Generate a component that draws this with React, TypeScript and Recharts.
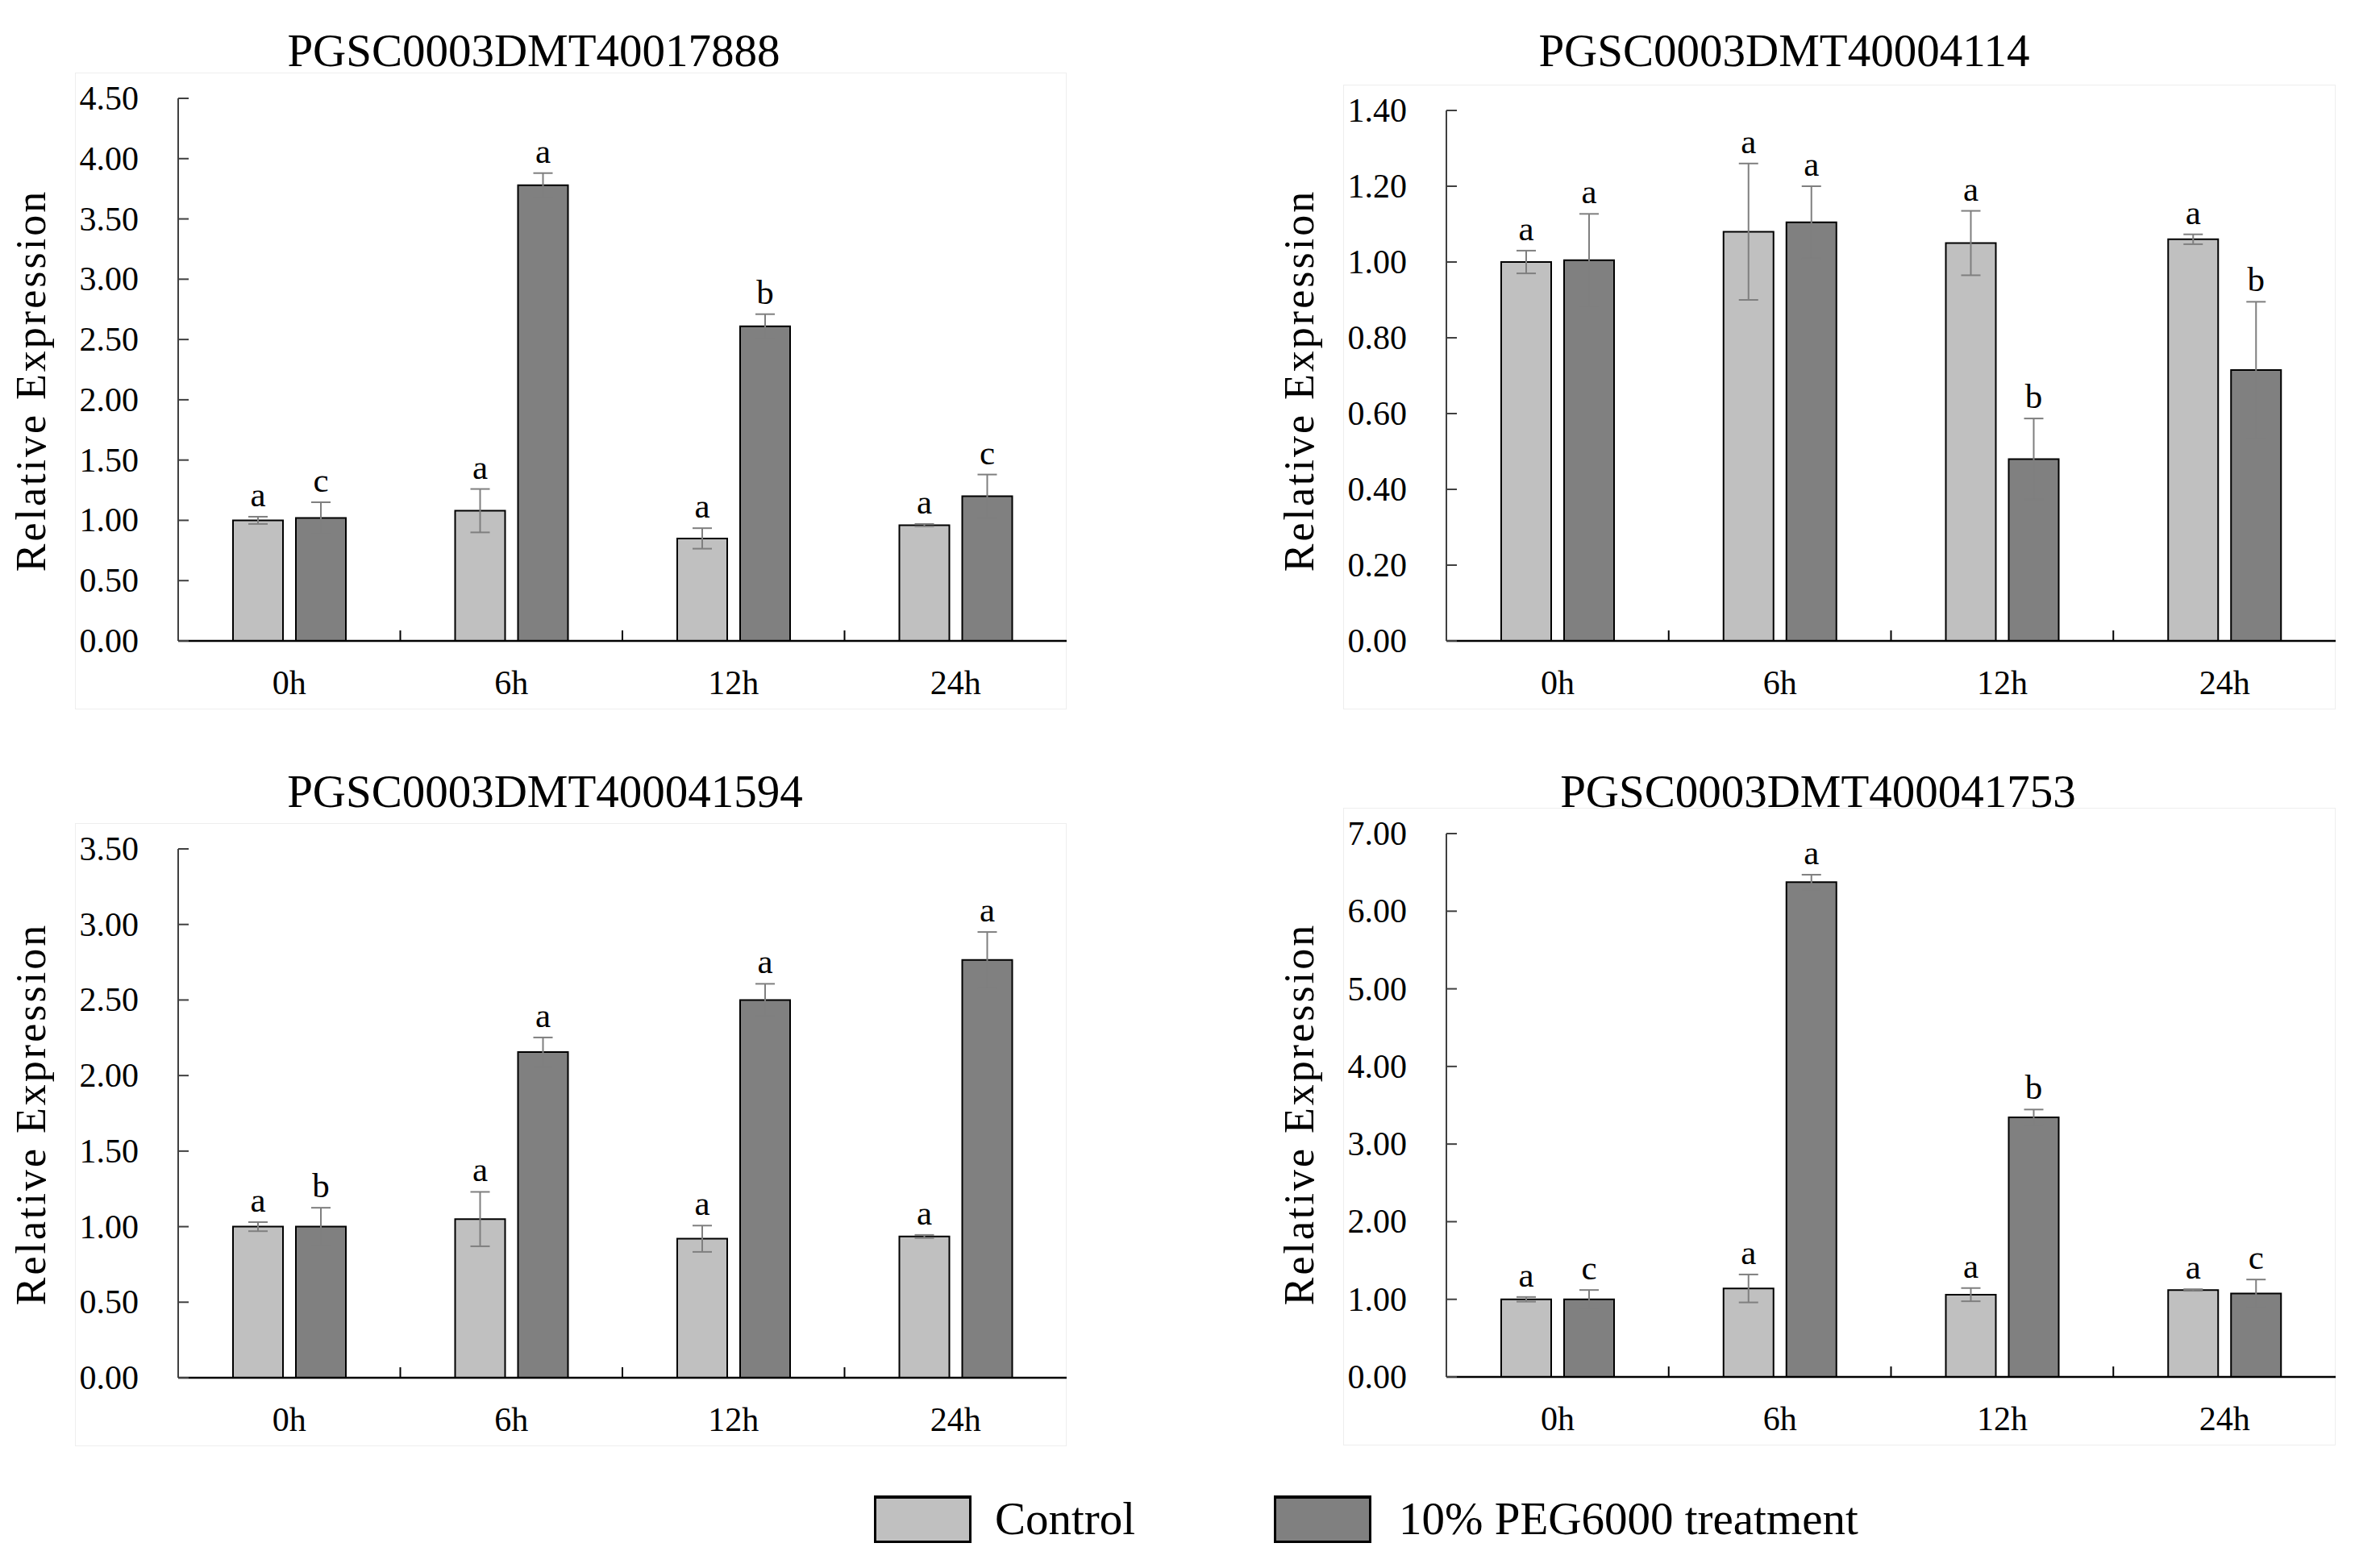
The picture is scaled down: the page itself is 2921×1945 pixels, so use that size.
import React from "react";
import { BarChart, Bar, XAxis, YAxis, ErrorBar, LabelList } from "recharts";

const SERIF = "'Liberation Serif', 'Times New Roman', serif";
const CONTROL_FILL = "#c0c0c0";
const PEG_FILL = "#808080";

const categories = ["0h", "6h", "12h", "24h"];

// PGSC0003DMT40017888
const g1Control = [1.0, 1.08, 0.85, 0.96];
const g1ControlErr = [0.03, 0.18, 0.085, 0.01];
const g1Peg = [1.02, 3.78, 2.61, 1.2];
const g1PegErr = [0.13, 0.1, 0.1, 0.18];
const g1ControlSig = ["a", "a", "a", "a"];
const g1PegSig = ["c", "a", "b", "c"];
const g1Ticks = [0, 0.5, 1, 1.5, 2, 2.5, 3, 3.5, 4, 4.5];

// PGSC0003DMT40004114
const g2Control = [1.0, 1.08, 1.05, 1.06];
const g2ControlErr = [0.03, 0.18, 0.085, 0.013];
const g2Peg = [1.005, 1.105, 0.48, 0.715];
const g2PegErr = [0.122, 0.095, 0.107, 0.18];
const g2ControlSig = ["a", "a", "a", "a"];
const g2PegSig = ["a", "a", "b", "b"];
const g2Ticks = [0, 0.2, 0.4, 0.6, 0.8, 1.0, 1.2, 1.4];

// PGSC0003DMT400041594
const g3Control = [1.0, 1.05, 0.92, 0.935];
const g3ControlErr = [0.03, 0.18, 0.087, 0.01];
const g3Peg = [1.0, 2.155, 2.5, 2.765];
const g3PegErr = [0.125, 0.097, 0.107, 0.185];
const g3ControlSig = ["a", "a", "a", "a"];
const g3PegSig = ["b", "a", "a", "a"];
const g3Ticks = [0, 0.5, 1, 1.5, 2, 2.5, 3, 3.5];

// PGSC0003DMT400041753
const g4Control = [1.0, 1.14, 1.06, 1.12];
const g4ControlErr = [0.03, 0.18, 0.085, 0.01];
const g4Peg = [1.0, 6.375, 3.345, 1.075];
const g4PegErr = [0.12, 0.095, 0.1, 0.18];
const g4ControlSig = ["a", "a", "a", "a"];
const g4PegSig = ["c", "a", "b", "c"];
const g4Ticks = [0, 1, 2, 3, 4, 5, 6, 7];

const legendNames = ["Control", "10% PEG6000 treatment"];

function buildRows(ctrl: number[], ctrlErr: number[], peg: number[], pegErr: number[], ctrlSig: string[], pegSig: string[]) {
  return categories.map((cat, i) => ({
    cat,
    control: ctrl[i],
    controlErr: ctrlErr[i],
    controlSig: ctrlSig[i],
    peg: peg[i],
    pegErr: pegErr[i],
    pegSig: pegSig[i],
  }));
}

const panels = [
  {
    title: "PGSC0003DMT40017888",
    rows: buildRows(g1Control, g1ControlErr, g1Peg, g1PegErr, g1ControlSig, g1PegSig),
    ticks: g1Ticks,
    plot: { left: 221, top: 122, right: 1323, bottom: 795 },
    titleX: 662,
    titleY: 63,
    labelY: 472,
  },
  {
    title: "PGSC0003DMT40004114",
    rows: buildRows(g2Control, g2ControlErr, g2Peg, g2PegErr, g2ControlSig, g2PegSig),
    ticks: g2Ticks,
    plot: { left: 1794, top: 137, right: 2897, bottom: 795 },
    titleX: 2213,
    titleY: 63,
    labelY: 472,
  },
  {
    title: "PGSC0003DMT400041594",
    rows: buildRows(g3Control, g3ControlErr, g3Peg, g3PegErr, g3ControlSig, g3PegSig),
    ticks: g3Ticks,
    plot: { left: 221, top: 1053, right: 1323, bottom: 1709 },
    titleX: 676,
    titleY: 982,
    labelY: 1382,
  },
  {
    title: "PGSC0003DMT400041753",
    rows: buildRows(g4Control, g4ControlErr, g4Peg, g4PegErr, g4ControlSig, g4PegSig),
    ticks: g4Ticks,
    plot: { left: 1794, top: 1034, right: 2897, bottom: 1708 },
    titleX: 2255,
    titleY: 982,
    labelY: 1382,
  },
];

const Y_AXIS_W = 200;
const X_AXIS_H = 100;
const M_TOP = 30;
const M_RIGHT = 12;

const YTick = (props: any) => {
  const { x, y, payload } = props;
  return (
    <g>
      <line x1={x} x2={x + 13} y1={y} y2={y} stroke="#404040" strokeWidth={2} />
      <text x={x - 49} y={y + 14} textAnchor="end" fontSize={42} fontFamily={SERIF} fill="#000">
        {Number(payload.value).toFixed(2)}
      </text>
    </g>
  );
};

const makeXTick = (band: number) => (props: any) => {
  const { x, y, payload, index } = props;
  return (
    <g>
      {index < categories.length - 1 && (
        <line x1={x + band / 2} x2={x + band / 2} y1={y} y2={y - 13} stroke="#000" strokeWidth={2} />
      )}
      <text x={x} y={y + 66} textAnchor="middle" fontSize={42} fontFamily={SERIF} fill="#000">
        {payload.value}
      </text>
    </g>
  );
};

const makeLetter = (rows: any[], valueKey: string, errKey: string) => (props: any) => {
  const { x, y, width, height, index, value } = props;
  const row = rows[index];
  const ppu = height / row[valueKey];
  const top = y - row[errKey] * ppu;
  return (
    <text x={x + width / 2} y={top - 13} textAnchor="middle" fontSize={43} fontFamily={SERIF} fill="#000">
      {value}
    </text>
  );
};

function Panel({ p }: { p: (typeof panels)[number] }) {
  const left = p.plot.left - Y_AXIS_W;
  const top = p.plot.top - M_TOP;
  const width = p.plot.right + M_RIGHT - left;
  const height = p.plot.bottom + X_AXIS_H - top;
  const band = (p.plot.right - p.plot.left) / categories.length;
  const max = p.ticks[p.ticks.length - 1];
  return (
    <>
      <div
        style={{
          position: "absolute",
          left: p.plot.left - 128,
          top: p.plot.top - 32,
          width: p.plot.right - p.plot.left + 128,
          height: p.plot.bottom - p.plot.top + 117,
          border: "1px solid #eeeeee",
          boxSizing: "border-box",
        }}
      />
      <div
        style={{
          position: "absolute",
          left: p.titleX - 600,
          width: 1200,
          top: p.titleY - 29,
          textAlign: "center",
          fontFamily: SERIF,
          fontSize: 57,
          lineHeight: 1,
          whiteSpace: "nowrap",
        }}
      >
        {p.title}
      </div>
      <div
        style={{
          position: "absolute",
          left: p.plot.left - 182,
          top: p.labelY,
          transform: "translate(-50%, -50%) rotate(-90deg)",
          fontFamily: SERIF,
          fontSize: 52,
          letterSpacing: 3,
          lineHeight: 1,
          whiteSpace: "nowrap",
        }}
      >
        Relative Expression
      </div>
      <div style={{ position: "absolute", left, top }}>
        <BarChart
          width={width}
          height={height}
          data={p.rows}
          margin={{ top: M_TOP, right: M_RIGHT, bottom: 0, left: 0 }}
          barCategoryGap={68}
          barGap={16}
        >
          <XAxis
            dataKey="cat"
            height={X_AXIS_H}
            tickLine={false}
            tickSize={0}
            tickMargin={0}
            axisLine={{ stroke: "#000", strokeWidth: 2.5 }}
            tick={makeXTick(band)}
            interval={0}
          />
          <YAxis
            type="number"
            width={Y_AXIS_W}
            domain={[0, max]}
            ticks={p.ticks}
            interval={0}
            tickLine={false}
            tickSize={0}
            tickMargin={0}
            axisLine={{ stroke: "#404040", strokeWidth: 2 }}
            tick={YTick}
          />
          <Bar dataKey="control" fill={CONTROL_FILL} stroke="#000" strokeWidth={2} isAnimationActive={false}>
            <ErrorBar dataKey="controlErr" width={12} stroke="#7f7f7f" strokeWidth={2} direction="y" isAnimationActive={false} />
            <LabelList dataKey="controlSig" content={makeLetter(p.rows, "control", "controlErr")} />
          </Bar>
          <Bar dataKey="peg" fill={PEG_FILL} stroke="#000" strokeWidth={2} isAnimationActive={false}>
            <ErrorBar dataKey="pegErr" width={12} stroke="#7f7f7f" strokeWidth={2} direction="y" isAnimationActive={false} />
            <LabelList dataKey="pegSig" content={makeLetter(p.rows, "peg", "pegErr")} />
          </Bar>
        </BarChart>
      </div>
    </>
  );
}

function LegendItem({ x, textX, fill, label }: { x: number; textX: number; fill: string; label: string }) {
  return (
    <>
      <div
        style={{
          position: "absolute",
          left: x,
          top: 1855,
          width: 121,
          height: 59,
          background: fill,
          borderTop: "4px solid #000",
          borderLeft: "3px solid #000",
          borderRight: "3px solid #000",
          borderBottom: "3px solid #000",
          boxSizing: "border-box",
        }}
      />
      <div
        style={{
          position: "absolute",
          left: textX,
          top: 1885 - 30,
          fontFamily: SERIF,
          fontSize: 57,
          lineHeight: 1,
          whiteSpace: "nowrap",
        }}
      >
        {label}
      </div>
    </>
  );
}

export default function App() {
  return (
    <div style={{ position: "absolute", left: 0, top: 0, width: 2921, height: 1945, background: "#fff", overflow: "hidden" }}>
      {panels.map((p) => (
        <Panel key={p.title} p={p} />
      ))}
      <LegendItem x={1084} textX={1234} fill={CONTROL_FILL} label={legendNames[0]} />
      <LegendItem x={1580} textX={1735} fill={PEG_FILL} label={legendNames[1]} />
    </div>
  );
}
